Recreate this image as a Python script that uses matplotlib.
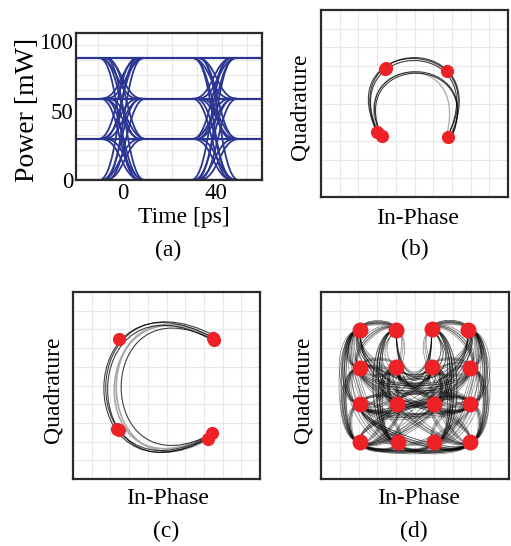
import numpy as np
import matplotlib.pyplot as plt
from matplotlib.path import Path
from matplotlib.patches import PathPatch

plt.rcParams['font.family'] = ['Liberation Serif', 'DejaVu Serif']
plt.rcParams['font.size'] = 17

## --- (a) eye diagram ---
levels = [0, 29.5, 58.7, 88]
# (crossing time [ps], from level, to level, time shift [ps])
eye_transitions = [
    (0, 3, 0, -1.5), (0, 3, 0, 1.0), (0, 3, 1, -1.0), (0, 3, 1, 1.5), (0, 3, 2, 0.0), (0, 3, 2, -2.0),
    (0, 2, 0, 0.5), (0, 2, 0, -1.0), (0, 2, 1, 0.0), (0, 2, 1, 2.0), (0, 2, 3, -0.5), (0, 2, 3, 1.5),
    (0, 1, 0, -0.5), (0, 1, 0, 1.5), (0, 1, 2, 0.5), (0, 1, 2, -1.5), (0, 1, 3, 0.0), (0, 1, 3, -2.0),
    (0, 0, 1, 1.0), (0, 0, 1, -1.0), (0, 0, 2, -0.5), (0, 0, 2, 1.5), (0, 0, 3, 0.5), (0, 0, 3, -1.5),
    (40, 3, 0, -1.0), (40, 3, 0, 1.5), (40, 3, 1, -1.5), (40, 3, 1, 1.0), (40, 3, 2, 0.5), (40, 3, 2, -2.0),
    (40, 2, 0, 0.0), (40, 2, 0, -1.5), (40, 2, 1, 0.5), (40, 2, 1, 2.0), (40, 2, 3, -1.0), (40, 2, 3, 1.0),
    (40, 1, 0, -1.0), (40, 1, 0, 1.0), (40, 1, 2, 0.0), (40, 1, 2, -2.0), (40, 1, 3, 0.5), (40, 1, 3, -1.5),
    (40, 0, 1, 1.5), (40, 0, 1, -0.5), (40, 0, 2, -1.0), (40, 0, 2, 1.0), (40, 0, 3, 0.0), (40, 0, 3, -2.0),
]
power_ticks = [0, 50, 100]
time_ticks = [0, 40]
time_grid = [-10.7, 0, 10.7, 21.4, 32.1, 42.8, 53.5]
power_grid = [10.8, 21.6, 32.4, 43.2, 54.0, 64.8, 75.6, 86.4, 97.2]

## --- (b) constellation: cubic trajectories [P0, P1, P2, P3] ---
b_dark = [
    [(3.15, 3.15), (0.3, 8.9), (9.7, 8.9), (6.85, 3.1)],
    [(3.0, 3.45), (0.4, 8.8), (9.6, 8.7), (6.8, 3.3)],
    [(3.1, 3.3), (0.6, 8.6), (9.4, 8.7), (6.75, 3.2)],
    [(3.25, 3.2), (1.0, 7.9), (9.2, 7.9), (6.9, 3.0)],
    [(3.3, 3.1), (1.1, 7.8), (9.1, 7.8), (6.9, 3.05)],
]
b_grey = [
    [(3.0, 3.6), (1.6, 7.5), (8.3, 8.1), (6.6, 2.9)],
]
b_dots = [(3.4, 6.85), (3.48, 6.92), (6.75, 6.75), (3.0, 3.5), (3.25, 3.25), (6.8, 3.2)]

## --- (c) constellation ---
c_dark = [
    [(7.6, 7.5), (-0.3, 11.9), (-0.3, -2.1), (7.4, 2.3)],
    [(7.7, 7.6), (-0.2, 11.8), (-0.2, -2.0), (7.5, 2.4)],
    [(7.5, 7.4), (0.0, 11.6), (0.0, -1.9), (7.3, 2.2)],
    [(7.6, 7.4), (0.9, 11.0), (0.9, -1.2), (7.6, 2.5)],
]
c_grey = [
    [(7.4, 7.6), (0.5, 11.2), (0.8, -1.4), (7.2, 2.1)],
    [(7.5, 7.5), (0.6, 11.3), (0.3, -1.7), (7.45, 2.45)],
]
c_dots = [(2.46, 7.49), (7.49, 7.54), (7.55, 7.45), (2.35, 2.67), (2.45, 2.6), (7.2, 2.15), (7.45, 2.45)]

## --- (d) 16-point constellation ---
d_symbols = [
    (2.07, 7.97), (3.99, 7.97), (5.89, 8.00), (7.84, 7.97),
    (2.05, 5.95), (4.00, 6.00), (5.90, 6.00), (7.90, 5.95),
    (2.10, 4.00), (4.05, 4.01), (6.00, 4.01), (7.90, 4.01),
    (2.10, 1.98), (4.10, 1.98), (6.00, 1.98), (7.90, 2.00),
]
# (from symbol, to symbol, bulge)
d_transitions = [
    (12, 0, 0.22), (0, 12, -0.2), (12, 4, 0.28), (8, 0, 0.33), (4, 12, -0.3), (0, 8, -0.28),
    (4, 0, 0.45), (0, 4, -0.4), (8, 12, -0.4), (12, 8, 0.35), (8, 4, 0.45),
    (15, 3, -0.22), (3, 15, 0.2), (15, 7, -0.28), (11, 3, -0.33), (7, 15, 0.3), (3, 11, 0.28),
    (7, 3, -0.45), (3, 7, 0.4), (11, 15, 0.4), (15, 11, -0.35), (11, 7, -0.45),
    (12, 15, -0.13), (15, 12, 0.12), (12, 14, -0.18), (13, 15, -0.18), (14, 12, 0.16), (15, 13, 0.2),
    (12, 13, -0.3), (13, 14, -0.32), (14, 15, -0.3), (13, 12, 0.28), (15, 14, 0.3),
    (0, 1, 0.3), (1, 0, -0.3), (2, 3, 0.3), (3, 2, -0.3), (0, 1, 0.22), (3, 2, -0.22),
    (1, 2, -1.9), (2, 1, 1.9), (5, 6, -0.75), (6, 5, 0.7), (5, 2, -0.8), (1, 6, -0.8), (2, 5, 0.8),
    (4, 7, -0.25), (7, 4, 0.22), (0, 3, -0.7), (3, 0, 0.68),
    (1, 13, -0.25), (13, 1, 0.25), (5, 13, -0.3), (13, 5, 0.3), (1, 9, -0.3), (9, 1, 0.3),
    (2, 14, 0.25), (14, 2, -0.25), (6, 14, 0.3), (14, 6, -0.3), (2, 10, 0.3), (10, 2, -0.3),
    (0, 15, -0.2), (12, 3, -0.2), (4, 15, 0.15), (8, 7, -0.2), (12, 7, -0.15), (11, 4, 0.2),
    (15, 4, 0.15), (0, 11, -0.3), (3, 8, 0.3), (9, 15, 0.2), (12, 10, -0.2), (13, 11, -0.2),
    (14, 8, 0.2), (5, 11, -0.2), (6, 8, 0.2), (4, 10, -0.2), (7, 9, 0.2), (1, 8, 0.3),
    (2, 11, -0.3), (8, 13, 0.3), (11, 14, -0.3), (5, 12, 0.2), (6, 15, -0.2), (9, 12, 0.3),
    (10, 15, -0.3), (0, 5, -0.3), (3, 6, 0.3), (4, 9, 0.3), (7, 10, -0.3),
    (4, 5, 0.3), (5, 4, 0.3), (6, 7, 0.3), (7, 6, 0.3), (8, 11, 0.15), (11, 8, 0.15),
    (9, 10, 0.4), (10, 9, 0.4), (10, 11, 0.3), (11, 10, 0.3), (8, 9, 0.3), (9, 8, 0.3),
    (8, 10, -0.25), (9, 11, 0.25),
    (0, 13, -0.2), (13, 0, 0.25), (3, 14, 0.2), (14, 3, -0.25), (4, 13, -0.35), (7, 14, 0.35),
    (1, 4, -0.35), (2, 7, 0.35), (4, 1, 0.4), (7, 2, -0.4), (8, 15, -0.2), (11, 12, -0.2),
    (12, 11, 0.2), (15, 8, 0.2), (5, 9, -0.3), (9, 5, 0.3), (6, 10, 0.3), (10, 6, -0.3),
]
d_grey = [(5, 6, -0.65), (6, 5, 0.6), (9, 7, 0.25), (10, 3, -0.2), (8, 11, -0.12), (13, 10, 0.3),
          (9, 6, -0.4), (10, 5, 0.4), (1, 2, -1.6), (12, 9, -0.3)]
# each transition is traced a few times by slightly different paths
d_spread = [0.88, 1.0, 1.14]

EYE = '#2b3592'
RED = '#ec2227'
GRID = '#e8e8e8'


def bezier(ax, pts, **kw):
    pts = np.asarray(pts, float)
    codes = [Path.MOVETO] + [Path.CURVE4] * (len(pts) - 1)
    ax.add_patch(PathPatch(Path(pts, codes), fill=False, **kw))


def arc(p, q, k):
    p, q = np.asarray(p, float), np.asarray(q, float)
    d = q - p
    n = np.array([-d[1], d[0]])
    return [p, p + k * n, q + k * n, q]


def frame(ax):
    for s in ax.spines.values():
        s.set_linewidth(1.6)
        s.set_color('#2a2a2a')
        s.set_zorder(5)


def iq_axes(ax):
    ax.set_xlim(0, 10)
    ax.set_ylim(0, 10)
    ax.set_xticks(range(1, 10))
    ax.set_yticks(range(1, 10))
    ax.tick_params(length=0, labelbottom=False, labelleft=False)
    ax.grid(True, color=GRID, linewidth=0.8)
    ax.set_axisbelow(True)
    frame(ax)


fig = plt.figure(figsize=(5.11, 5.46), dpi=100)
W, H = 511, 546


def px_axes(x0, y0, x1, y1):
    return fig.add_axes([x0 / W, 1 - y1 / H, (x1 - x0) / W, (y1 - y0) / H])


def px_text(x, y, s, **kw):
    fig.text(x / W, 1 - y / H, s, ha='center', va='center', **kw)


## (a)
ax = px_axes(76, 33, 262, 180)
ax.set_xlim(-20, 60)
ax.set_ylim(0, 106)
ax.set_xticks(time_grid, minor=True)
ax.set_yticks(power_grid, minor=True)
ax.grid(True, which='minor', color=GRID, linewidth=0.8)
ax.set_axisbelow(True)
ax.set_xticks(time_ticks)
ax.set_yticks(power_ticks)
ax.tick_params(which='both', length=0, labelsize=16.5)
ax.tick_params(axis='y', pad=2)
ax.tick_params(axis='x', pad=2)
ax.hlines(levels, -20, 60, color=EYE, linewidth=1.6)
w = 8.5
for c, i, j, s in eye_transitions:
    t0 = c + s
    bezier(ax, [(t0 - w, levels[i]), (t0, levels[i]), (t0, levels[j]), (t0 + w, levels[j])],
           edgecolor=EYE, linewidth=1.3)
frame(ax)
px_text(27, 110, 'Power [mW]', rotation=90, fontsize=20)
px_text(184, 218, 'Time [ps]')
px_text(168, 250, '(a)')

## (b)
ax = px_axes(321, 10, 508, 197)
iq_axes(ax)
for pts in b_grey:
    bezier(ax, pts, edgecolor='#b0b0b0', linewidth=1.0)
for pts in b_dark:
    bezier(ax, pts, edgecolor='black', linewidth=0.8, alpha=0.75)
bx, by = zip(*b_dots)
ax.plot(bx, by, 'o', color=RED, markersize=8.5, zorder=4)
px_text(300, 107, 'Quadrature', rotation=90)
px_text(418, 218, 'In-Phase')
px_text(415, 249, '(b)')

## (c)
ax = px_axes(73, 292, 260, 479)
iq_axes(ax)
for pts in c_grey:
    bezier(ax, pts, edgecolor='#a8a8a8', linewidth=1.2)
for pts in c_dark:
    bezier(ax, pts, edgecolor='black', linewidth=0.8, alpha=0.75)
cx, cy = zip(*c_dots)
ax.plot(cx, cy, 'o', color=RED, markersize=8.5, zorder=4)
px_text(53, 390, 'Quadrature', rotation=90)
px_text(168, 498, 'In-Phase')
px_text(166, 531, '(c)')

## (d)
ax = px_axes(321, 292, 509, 479)
iq_axes(ax)
for i, j, k in d_grey:
    bezier(ax, arc(d_symbols[i], d_symbols[j], k), edgecolor='#a0a0a0', linewidth=1.0)
for i, j, k in d_transitions:
    for f in d_spread:
        bezier(ax, arc(d_symbols[i], d_symbols[j], k * f), edgecolor='black',
               linewidth=0.6, alpha=0.42)
dx, dy = zip(*d_symbols)
ax.plot(dx, dy, 'o', color=RED, markersize=10.5, zorder=4)
px_text(303, 390, 'Quadrature', rotation=90)
px_text(419, 498, 'In-Phase')
px_text(414, 531, '(d)')

fig.savefig('out.png', dpi=100)
